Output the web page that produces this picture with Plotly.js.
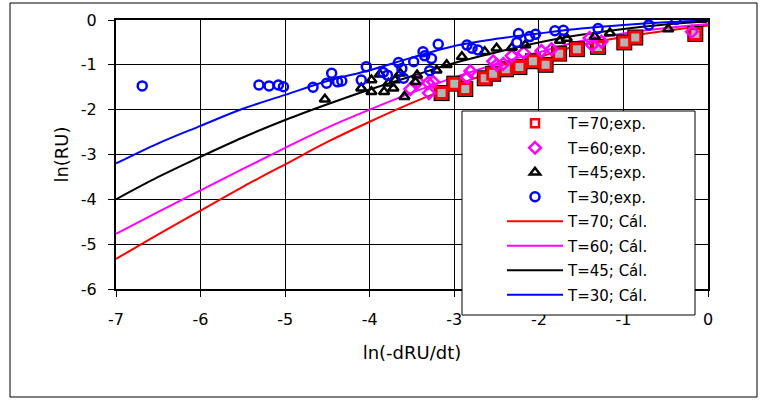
<!DOCTYPE html>
<html>
<head>
<meta charset="utf-8">
<script src="https://cdn.plot.ly/plotly-3.0.1.min.js"></script>
<style>html,body{margin:0;padding:0;background:#fff;}#chart{width:762px;height:401px;}</style>
</head>
<body>
<div id="chart"></div>
<script>
// ---- data ----
const exp70X = [-3.15,-3.00,-2.87,-2.64,-2.54,-2.39,-2.23,-2.07,-1.92,-1.76,-1.55,-1.30,-0.99,-0.86,-0.15];
const exp70Y = [-1.63,-1.42,-1.54,-1.30,-1.20,-1.10,-1.05,-0.92,-1.00,-0.75,-0.65,-0.60,-0.50,-0.39,-0.31];

const exp60X = [-3.52,-3.43,-3.31,-3.30,-3.25,-2.85,-2.81,-2.54,-2.50,-2.42,-2.32,-2.18,-1.97,-1.85,-1.40,-1.37,-1.26,-0.19];
const exp60Y = [-1.54,-1.38,-1.40,-1.63,-1.38,-1.28,-1.14,-0.92,-1.00,-0.98,-0.80,-0.73,-0.69,-0.65,-0.40,-0.56,-0.48,-0.26];

const exp45X = [-4.53,-4.10,-3.98,-3.98,-3.88,-3.83,-3.78,-3.72,-3.70,-3.64,-3.59,-3.46,-3.44,-3.21,-3.09,-2.91,-2.64,-2.50,-2.32,-2.16,-1.75,-1.67,-1.34,-1.16,-0.47,-0.08];
const exp45Y = [-1.77,-1.52,-1.34,-1.60,-1.21,-1.60,-1.41,-1.52,-1.34,-1.19,-1.71,-1.38,-1.23,-1.12,-1.00,-0.82,-0.71,-0.63,-0.62,-0.56,-0.46,-0.41,-0.37,-0.29,-0.20,0.01];

const exp30X = [-6.69,-5.31,-5.19,-5.08,-5.02,-4.67,-4.51,-4.45,-4.38,-4.33,-4.10,-4.04,-3.84,-3.79,-3.66,-3.62,-3.60,-3.48,-3.37,-3.35,-3.27,-3.29,-3.19,-2.85,-2.79,-2.72,-2.26,-2.24,-2.11,-2.04,-1.81,-1.71,-1.30,-0.70,-0.38];
const exp30Y = [-1.47,-1.45,-1.47,-1.45,-1.49,-1.50,-1.41,-1.19,-1.38,-1.36,-1.34,-1.04,-1.17,-1.23,-0.95,-1.08,-1.30,-0.93,-0.71,-0.80,-0.86,-1.13,-0.54,-0.56,-0.63,-0.67,-0.50,-0.30,-0.37,-0.32,-0.24,-0.23,-0.19,-0.11,0.01];

const calX  = [-7,-6.5,-6,-5.5,-5,-4.5,-4,-3.5,-3,-2.5,-2,-1.5,-1,-0.5,0];
const cal70 = [-5.33,-4.78,-4.25,-3.72,-3.22,-2.72,-2.27,-1.85,-1.47,-1.13,-0.83,-0.55,-0.38,-0.24,-0.12];
const cal60 = [-4.77,-4.28,-3.80,-3.32,-2.85,-2.40,-2.00,-1.62,-1.28,-0.98,-0.72,-0.47,-0.30,-0.18,-0.09];
const cal45 = [-4.00,-3.50,-3.05,-2.62,-2.23,-1.88,-1.55,-1.25,-0.96,-0.72,-0.50,-0.33,-0.20,-0.10,-0.03];
const cal30 = [-3.20,-2.75,-2.36,-1.98,-1.67,-1.36,-1.12,-0.84,-0.58,-0.42,-0.30,-0.19,-0.11,-0.05,-0.01];

const names = ['T=70;exp.','T=60;exp.','T=45;exp.','T=30;exp.','T=70; Cál.','T=60; Cál.','T=45; Cál.','T=30; Cál.'];
const xTicks = [-7,-6,-5,-4,-3,-2,-1,0];
const yTicks = [-6,-5,-4,-3,-2,-1,0];

// ---- traces ----
const FONT = 'DejaVu Sans, Arial, sans-serif';
function calTrace(y, color, name, rank){
  return {x: calX, y: y, mode:'lines', type:'scatter', name: name, legendgroup: 'g' + rank, legendrank: rank,
          line:{color: color, width: 2, shape:'spline'}, hoverinfo:'skip'};
}
const traces = [
  // legend entry for T=70 exp (no marks of its own; the plotted squares below carry the data)
  {x:[null], y:[null], mode:'markers', type:'scatter', name: names[0], legendgroup: 'g1', legendrank: 1,
   marker:{symbol:'square-open', size:8, color:'#ff0000', line:{width:2.5}}},
  {x: exp60X, y: exp60Y, mode:'markers', type:'scatter', name: names[1], legendgroup: 'g2', legendrank: 2,
   marker:{symbol:'diamond-open', size:9, color:'#ff00ff', line:{width:2.5}}, visible:true},
  {x: exp45X, y: exp45Y, mode:'markers', type:'scatter', name: names[2], legendgroup: 'g3', legendrank: 3,
   marker:{symbol:'triangle-up-open', size:9, color:'#000000', line:{width:2.5}}},
  {x: exp30X, y: exp30Y, mode:'markers', type:'scatter', name: names[3], legendgroup: 'g4', legendrank: 4,
   marker:{symbol:'circle-open', size:9, color:'#0000ff', line:{width:2.5}}},
  calTrace(cal70, '#ff0000', names[4], 5),
  calTrace(cal60, '#ff00ff', names[5], 6),
  calTrace(cal45, '#000000', names[6], 7),
  calTrace(cal30, '#0000ff', names[7], 8),
  // T=70 squares: black outline + red-edged grey square
  {x: exp70X, y: exp70Y, mode:'markers', type:'scatter', showlegend:false, hoverinfo:'skip',
   marker:{symbol:'square', size:16, color:'#000000'}},
  {x: exp70X, y: exp70Y, mode:'markers', type:'scatter', showlegend:false,
   marker:{symbol:'square', size:11, color:'#b4b4b4', line:{color:'#ff0000', width:3}}}
];
// draw order: lines first, then squares, diamonds, triangles, circles
const order = [4,5,6,7,8,9,1,2,3,0];
const data = order.map(i => traces[i]);

// plot area in pixels: left 116, right 708, top 20, bottom 289
const L=116, R=708, T=20, B=289, W=762, H=401;
const px = v => (v - L)/(R - L);
const py = v => (B - v)/(B - T);

const layout = {
  width: W, height: H,
  margin: {l: L, r: W - R, t: T, b: H - B, pad: 0},
  paper_bgcolor: '#ffffff', plot_bgcolor: '#ffffff',
  font: {family: FONT, size: 16, color: '#000000'},
  showlegend: true,
  xaxis: {
    range: [-7, 0], tickvals: xTicks, ticktext: xTicks.map(String),
    showgrid: true, gridcolor: '#000000', gridwidth: 1,
    zeroline: false, showline: true, linecolor: '#000000', linewidth: 2, mirror: true,
    ticks: 'outside', ticklen: 6, tickcolor: '#000000', tickwidth: 1,
    ticklabelstandoff: 9,
    tickfont: {family: FONT, size: 16},
    title: {text: 'ln(-dRU/dt)', font: {family: FONT, size: 18}, standoff: 18}
  },
  yaxis: {
    range: [-6, 0], tickvals: yTicks, ticktext: yTicks.map(String),
    showgrid: true, gridcolor: '#000000', gridwidth: 1,
    zeroline: false, showline: true, linecolor: '#000000', linewidth: 2, mirror: true,
    ticks: 'outside', ticklen: 6, tickcolor: '#000000', tickwidth: 1,
    ticklabelstandoff: 8,
    tickfont: {family: FONT, size: 16},
    title: {text: 'ln(RU)', font: {family: FONT, size: 18}, standoff: 8}
  },
  legend: {
    x: px(502), y: py(107), xanchor: 'left', yanchor: 'top',
    bgcolor: 'rgba(0,0,0,0)', borderwidth: 0,
    font: {family: FONT, size: 15, color: '#000000'},
    itemsizing: 'trace', itemwidth: 56, tracegroupgap: 2, traceorder: 'grouped'
  },
  shapes: [
    // outer chart frame
    {type:'rect', xref:'paper', yref:'paper', x0: px(10), x1: px(757), y0: py(397), y1: py(3),
     line:{color:'#000000', width:1}, fillcolor:'rgba(0,0,0,0)', layer:'below'},
    // legend box
    {type:'rect', xref:'paper', yref:'paper', x0: px(462), x1: px(695), y0: py(315), y1: py(111),
     line:{color:'#000000', width:1}, fillcolor:'#ffffff', layer:'above'}
  ]
};

Plotly.newPlot('chart', data, layout, {displayModeBar: false, staticPlot: true});
</script>
</body>
</html>
